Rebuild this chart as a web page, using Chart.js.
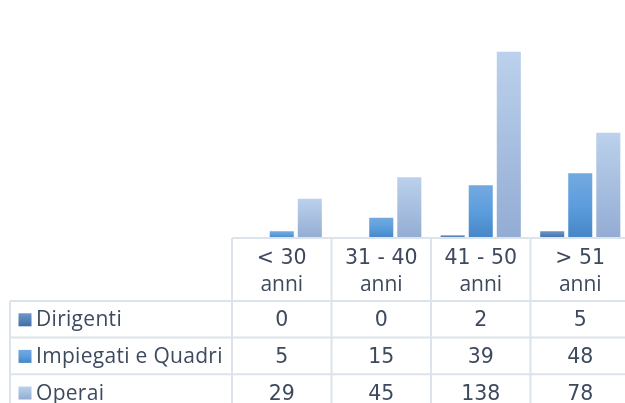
<!DOCTYPE html>
<html>
<head>
<meta charset="utf-8">
<script src="https://cdn.jsdelivr.net/npm/chart.js@4/dist/chart.umd.min.js"></script>
<style>
  html, body { margin: 0; padding: 0; background: #ffffff; overflow: hidden; width: 625px; height: 403px; }
  #wrap { position: absolute; left: 0; top: 0; width: 640px; height: 403px; }
</style>
</head>
<body>
<div id="wrap"><canvas id="c" width="640" height="403"></canvas></div>
<script>
const categories = [["< 30", "anni"], ["31 - 40", "anni"], ["41 - 50", "anni"], ["> 51", "anni"]];
const seriesNames = ["Dirigenti", "Impiegati e Quadri", "Operai"];
const dirigenti = [0, 0, 2, 5];
const impiegatiQuadri = [5, 15, 39, 48];
const operai = [29, 45, 138, 78];

const gradStops = [
  [[0, '#6d96c8'], [1, '#3f6fa8']],
  [[0, '#74a9e0'], [0.5, '#5c9ddd'], [1, '#4686c6']],
  [[0, '#bbd1ec'], [1, '#93acd3']]
];
const TEXT = '#3d4a5e';
const LINE = '#dde3ea';
const FONT = '21px "Open Sans", sans-serif';
const NUM_FONT = '20.5px "DejaVu Sans", sans-serif';

function barGradient(ctx2d, stops, yTop, yBot) {
  if (Math.abs(yBot - yTop) < 0.5) return stops[stops.length - 1][1];
  const g = ctx2d.createLinearGradient(0, yTop, 0, yBot);
  stops.forEach(s => g.addColorStop(s[0], s[1]));
  return g;
}

function scriptBg(dsIndex) {
  return function (context) {
    const chart = context.chart;
    const ys = chart.scales.y;
    if (!ys || !chart.chartArea || context.parsed === undefined) return gradStops[dsIndex][0][1];
    const yTop = ys.getPixelForValue(context.parsed.y);
    const yBot = ys.getPixelForValue(0);
    return barGradient(chart.ctx, gradStops[dsIndex], yTop, yBot);
  };
}

const seriesValues = [dirigenti, impiegatiQuadri, operai];

const tablePlugin = {
  id: 'dataTable',
  afterDatasetsDraw(chart) {
    const ctx = chart.ctx;
    const area = chart.chartArea;
    const W = chart.width, H = chart.height;
    const n = categories.length;
    const colW = (area.right - area.left) / n;
    const headerTop = area.bottom;
    const headerH = 63;
    const rowH = 36.6;
    const tableLeft = 10;
    ctx.save();
    ctx.strokeStyle = LINE;
    ctx.lineWidth = 2;
    ctx.beginPath();
    ctx.moveTo(area.left, headerTop); ctx.lineTo(W, headerTop);
    for (let r = 0; r < seriesNames.length; r++) {
      const y = headerTop + headerH + r * rowH;
      ctx.moveTo(tableLeft, y); ctx.lineTo(W, y);
    }
    for (let i = 0; i <= n; i++) {
      const x = area.left + i * colW;
      ctx.moveTo(x, headerTop); ctx.lineTo(x, H);
    }
    ctx.moveTo(tableLeft, headerTop + headerH); ctx.lineTo(tableLeft, H);
    ctx.stroke();

    ctx.fillStyle = TEXT;
    ctx.textBaseline = 'alphabetic';
    ctx.textAlign = 'center';
    for (let i = 0; i < n; i++) {
      const cx = area.left + (i + 0.5) * colW;
      const lines = categories[i];
      ctx.font = NUM_FONT;
      ctx.fillText(lines[0], cx, headerTop + 25.5);
      ctx.font = FONT;
      ctx.fillText(lines[1], cx, headerTop + 53);
    }
    for (let r = 0; r < seriesNames.length; r++) {
      const rowTop = headerTop + headerH + r * rowH;
      const base = rowTop + 25.3;
      ctx.fillStyle = TEXT;
      ctx.textAlign = 'center';
      ctx.font = NUM_FONT;
      for (let i = 0; i < n; i++) {
        const cx = area.left + (i + 0.5) * colW;
        ctx.fillText(String(seriesValues[r][i]), cx, base);
      }
      const ky = base - 13;
      ctx.fillStyle = barGradient(ctx, gradStops[r], ky, ky + 13);
      ctx.fillRect(18.5, ky, 13, 13);
      ctx.fillStyle = TEXT;
      ctx.textAlign = 'left';
      ctx.font = FONT;
      ctx.letterSpacing = '0.3px';
      ctx.fillText(seriesNames[r], 36, base);
      ctx.letterSpacing = '0px';
    }
    ctx.restore();
  }
};

new Chart(document.getElementById('c'), {
  type: 'bar',
  data: {
    labels: categories,
    datasets: seriesNames.map((name, i) => ({
      label: name,
      data: seriesValues[i],
      backgroundColor: scriptBg(i),
      borderWidth: 0,
      categoryPercentage: 0.846,
      barPercentage: 0.857
    }))
  },
  options: {
    responsive: false,
    animation: false,
    devicePixelRatio: 1,
    layout: { padding: { left: 232, right: 10, top: 22, bottom: 165 } },
    plugins: { legend: { display: false }, tooltip: { enabled: false } },
    scales: {
      x: { display: false },
      y: { display: false, min: 0, max: 160 }
    }
  },
  plugins: [tablePlugin]
});
</script>
</body>
</html>
